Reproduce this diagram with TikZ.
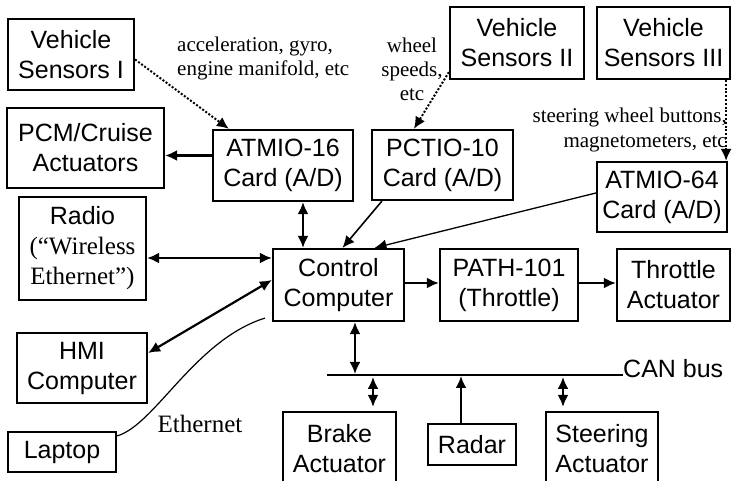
\documentclass[tikz,border=0pt]{standalone}
\usepackage{fontspec}
\setmainfont{Liberation Serif}
\setsansfont{Liberation Sans}
\usetikzlibrary{arrows.meta,calc}

\begin{document}
\begin{tikzpicture}[x=1pt,y=-1pt,
  box/.style={draw, line width=2.2pt, inner sep=0pt, align=center,
    font=\sffamily\fontsize{25}{30}\selectfont},
  arr/.style={line width=2.2pt, -{Latex[length=12pt,width=11pt]}},
  dbl/.style={line width=2.2pt, {Latex[length=12pt,width=11pt]}-{Latex[length=12pt,width=11pt]}},
  slim/.style={line width=1.6pt, -{Latex[length=12pt,width=11pt]}},
  slimmer/.style={line width=1.3pt, -{Latex[length=12pt,width=11pt]}},
  dots/.style={line width=2pt, dash pattern=on 2pt off 1.8pt, -{Latex[length=12pt,width=11pt]}},
  note/.style={font=\fontsize{21}{24}\selectfont, inner sep=0pt},
]
\clip (0,0) rectangle (732,481);

% boxes
\node[box, minimum width=126pt, minimum height=71pt] (vs1) at (71,54.5) {Vehicle\\Sensors I};
\node[box, minimum width=157pt, minimum height=80pt] (pcm) at (85.5,148) {PCM/Cruise\\Actuators};
\node[box, minimum width=140pt, minimum height=71pt] (atm16) at (283,165.5) {ATMIO-16\\Card (A/D)};
\node[box, minimum width=141pt, minimum height=70pt] (pctio) at (442.5,165) {PCTIO-10\\Card (A/D)};
\node[box, minimum width=134pt, minimum height=72pt] (vs2) at (517,43) {Vehicle\\Sensors II};
\node[box, minimum width=133pt, minimum height=72pt] (vs3) at (663.5,43) {Vehicle\\Sensors III};
\node[box, minimum width=130pt, minimum height=70pt] (atm64) at (662,197) {ATMIO-64\\Card (A/D)};
\node[box, minimum width=127pt, minimum height=103pt] (radio) at (82.5,248.5)
  {Radio\\{\rmfamily (“Wireless}\\{\rmfamily Ethernet”)}};
\node[box, minimum width=130pt, minimum height=70pt] (hmi) at (82,368) {HMI\\Computer};
\node[box, minimum width=108pt, minimum height=40pt] (laptop) at (62,452) {Laptop};
\node[box, minimum width=131pt, minimum height=72pt] (ctrl) at (338.5,285) {Control\\Computer};
\node[box, minimum width=138pt, minimum height=72pt] (path) at (509,285) {PATH-101\\(Throttle)};
\node[box, minimum width=113pt, minimum height=72pt] (thr) at (673.5,285) {Throttle\\Actuator};
\node[box, minimum width=113pt, minimum height=74pt] (brake) at (339.5,449) {Brake\\Actuator};
\node[box, minimum width=88pt, minimum height=41pt] (radar) at (472,444.5) {Radar};
\node[box, minimum width=112pt, minimum height=74pt] (steer) at (602,449) {Steering\\Actuator};

% labels
\node[note, anchor=west, align=left] (accl) at (177,58.7) {acceleration, gyro,\\engine manifold, etc};
\node[note, align=center] (whl) at (412,69) {wheel\\speeds,\\etc};
\node[note, font=\fontsize{21}{25}\selectfont, anchor=east, align=right] (strl) at (727,129.7)
  {steering wheel buttons,\\magnetometers, etc};
\node[font=\fontsize{25}{30}\selectfont, anchor=base, inner sep=0pt] (ethl) at (200,433) {Ethernet};

% CAN bus
\coordinate (busL) at (327,375);
\coordinate (busR) at (623,375);
\node[font=\sffamily\fontsize{25}{30}\selectfont, anchor=base west, inner sep=0pt] (can) at (623,378) {CAN bus};
\draw[line width=2.2pt] (busL) -- (busR);

% sensor links
\draw[dots] ([yshift=-5pt]vs1.east) -- ([xshift=17pt]atm16.north west);
\draw[dots] ([yshift=8pt]vs2.south west) -- ([xshift=43pt]pctio.north west);
\draw[dots] ([xshift=-5pt]vs3.south east) -- ([xshift=-5pt]vs3.south east |- atm64.north);

% card links
\draw[arr] ([yshift=10pt]atm16.west) -- ([yshift=10pt]atm16.west -| pcm.east);
\draw[dbl] ([xshift=20pt]atm16.south) -- ([xshift=20pt]atm16.south |- ctrl.north);
\draw[slim] ([xshift=11pt]pctio.south west) -- ([xshift=4pt]ctrl.north);
\draw[slimmer] ([yshift=4pt]atm64.west) -- ([xshift=36pt]ctrl.north);

% left side
\draw[dbl] ([yshift=-9.5pt]radio.east) -- ([yshift=-9.5pt]radio.east -| ctrl.west);
\draw[dbl] ([yshift=15pt]hmi.east) -- ([yshift=5pt]ctrl.west);
\draw[line width=1.2pt] ([yshift=-5pt]laptop.north east)
  .. controls (155,425) and (195,340) .. ([xshift=-7pt,yshift=4pt]ctrl.south west);

% throttle chain
\draw[arr] ([yshift=2pt]ctrl.east) -- ([yshift=2pt]ctrl.east -| path.west);
\draw[arr] ([yshift=2pt]path.east) -- ([yshift=2pt]path.east -| thr.west);

% bus drops
\draw[dbl, shorten >=1pt] ([xshift=16.5pt]ctrl.south) -- ([xshift=16.5pt]ctrl.south |- busL);
\draw[dbl, shorten <=2pt, shorten >=4pt] ([xshift=33.5pt]brake.north |- busL) -- ([xshift=33.5pt]brake.north);
\draw[arr, shorten >=1pt] ([xshift=-11pt]radar.north) -- ([xshift=-11pt]radar.north |- busL);
\draw[dbl, shorten <=2pt, shorten >=4pt] ([xshift=-39pt]steer.north |- busL) -- ([xshift=-39pt]steer.north);
\end{tikzpicture}
\end{document}
